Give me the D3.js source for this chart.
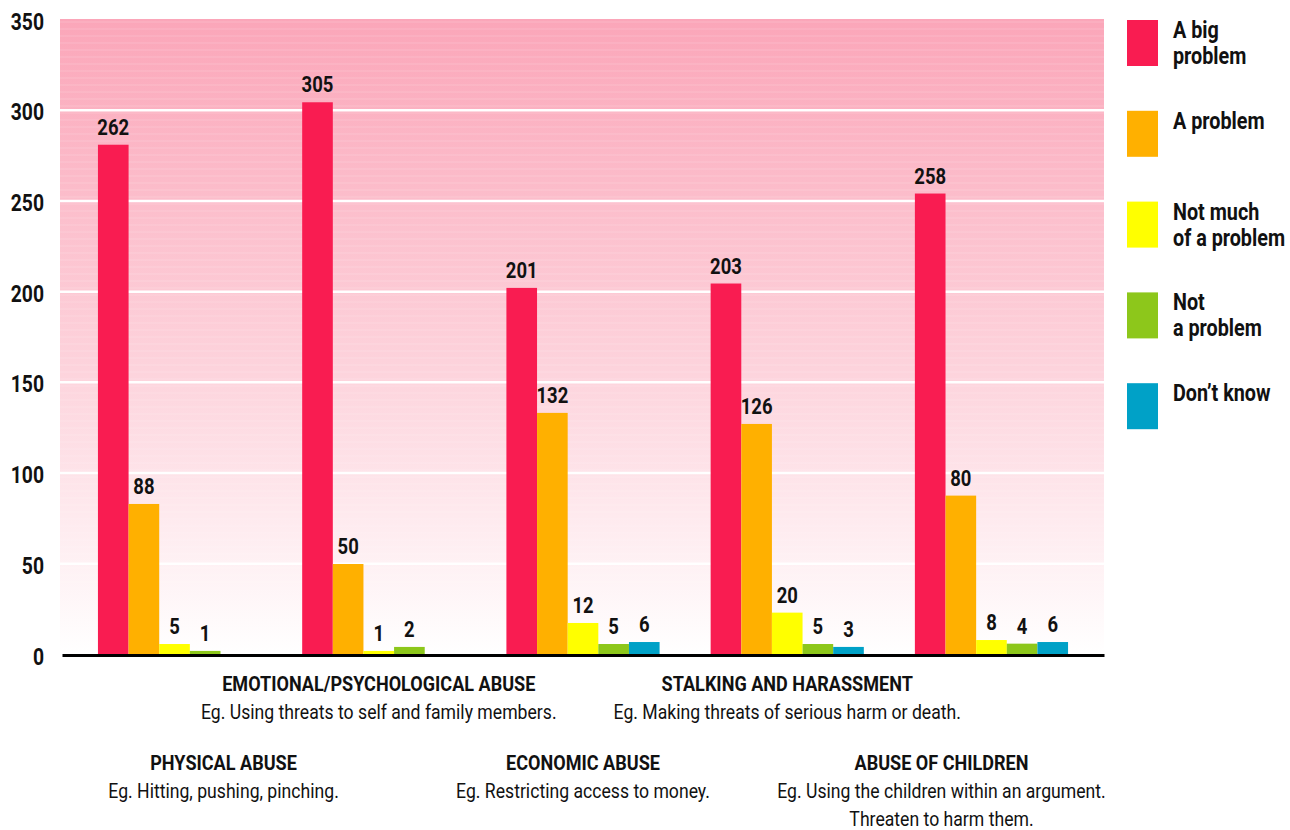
<!DOCTYPE html>
<html lang="en">
<head>
<meta charset="UTF-8">
<title>Domestic abuse - how big a problem</title>
<script src="https://cdnjs.cloudflare.com/ajax/libs/d3/7.8.5/d3.min.js"></script>
<style>
    body { margin: 0; background: #fff; }
    svg text { font-family: Roboto, 'Noto Sans', sans-serif; fill: #111; }
    .num { font-size: 22px; font-weight: bold; }
    .tick-label { font-size: 23px; font-weight: bold; }
    .cat { font-size: 21px; font-weight: bold; }
    .sub { font-size: 21px; font-weight: normal; }
    .legend-text { font-size: 23px; font-weight: bold; }
</style>
</head>
<body>
<svg id="chart" width="1290" height="830"></svg>
<script>
const categories = ["PHYSICAL ABUSE", "EMOTIONAL/PSYCHOLOGICAL ABUSE", "ECONOMIC ABUSE", "STALKING AND HARASSMENT", "ABUSE OF CHILDREN"];
const examples = [
    ["Eg. Hitting, pushing, pinching."],
    ["Eg. Using threats to self and family members."],
    ["Eg. Restricting access to money."],
    ["Eg. Making threats of serious harm or death."],
    ["Eg. Using the children within an argument.", "Threaten to harm them."]
];
const seriesKeys = ["big", "problem", "notMuch", "not", "dontKnow"];
const seriesNames = [["A big", "problem"], ["A problem"], ["Not much", "of a problem"], ["Not", "a problem"], ["Don\u2019t know"]];

// bar heights as drawn
const bigProblem = [280.7, 304.1, 201.8, 204.2, 253.8];
const aProblem = [82.7, 49.6, 132.9, 126.8, 87.3];
const notMuch = [5.5, 1.7, 17.1, 22.8, 7.7];
const notAProblem = [1.7, 3.9, 5.5, 5.5, 5.7];
const dontKnow = [null, null, 6.6, 3.9, 6.6];

// printed labels
const bigProblemLabels = [262, 305, 201, 203, 258];
const aProblemLabels = [88, 50, 132, 126, 80];
const notMuchLabels = [5, 1, 12, 20, 8];
const notAProblemLabels = [1, 2, 5, 5, 4];
const dontKnowLabels = [null, null, 6, 3, 6];

const yTicks = [0, 50, 100, 150, 200, 250, 300, 350];

const colors = ["#f91c51", "#ffb000", "#ffff00", "#8dc71b", "#00a1c7"];
const SX = 0.84; // horizontal squeeze for condensed look

const values = [bigProblem, aProblem, notMuch, notAProblem, dontKnow];
const labels = [bigProblemLabels, aProblemLabels, notMuchLabels, notAProblemLabels, dontKnowLabels];

const svg = d3.select('#chart');
const plotLeft = 62, plotRight = 1104, plotTop = 19, plotBottom = 654;

const y = d3.scaleLinear().domain([0, 350]).range([plotBottom, plotTop]);
const x0 = d3.scaleBand().domain(categories).range([plotLeft, plotRight])
    .paddingInner(0.25).paddingOuter(0.176);
const x1 = d3.scaleBand().domain(seriesKeys).range([0, x0.bandwidth()]);

// background gradient
const defs = svg.append('defs');
const grad = defs.append('linearGradient').attr('id', 'bg')
    .attr('x1', 0).attr('y1', 0).attr('x2', 0).attr('y2', 1);
grad.append('stop').attr('offset', '0%').attr('stop-color', '#fba6b9');
grad.append('stop').attr('offset', '55%').attr('stop-color', '#fdd3dc');
grad.append('stop').attr('offset', '100%').attr('stop-color', '#ffffff');

svg.append('rect')
    .attr('x', plotLeft - 2).attr('y', plotTop)
    .attr('width', plotRight - plotLeft + 2).attr('height', plotBottom - plotTop)
    .attr('fill', 'url(#bg)');

// faint banding
svg.append('g').selectAll('line')
    .data(d3.range(plotTop + 3, plotBottom, 7))
    .join('line')
    .attr('x1', plotLeft - 2).attr('x2', plotRight)
    .attr('y1', d => d).attr('y2', d => d)
    .attr('stroke', '#fff').attr('stroke-opacity', 0.18).attr('stroke-width', 1);

// grid
svg.append('g')
    .attr('transform', `translate(${plotLeft - 2},0)`)
    .call(d3.axisLeft(y).tickValues(yTicks.filter(t => t > 0 && t < 350))
        .tickSize(-(plotRight - plotLeft + 2)).tickFormat(''))
    .call(g => g.select('.domain').remove())
    .call(g => g.selectAll('line').attr('stroke', '#fff').attr('stroke-width', 2.5));

// y tick labels
svg.append('g')
    .attr('transform', `translate(${plotLeft},0)`)
    .call(d3.axisLeft(y).tickValues(yTicks).tickSize(0))
    .call(g => g.select('.domain').remove())
    .call(g => g.selectAll('text')
        .attr('class', 'tick-label')
        .attr('fill', '#111')
        .attr('font-family', null).attr('font-size', null)
        .attr('x', -18 / SX).attr('y', 10).attr('dy', null)
        .attr('transform', `scale(${SX},1)`));

// bars
const groups = svg.append('g').selectAll('g')
    .data(categories)
    .join('g')
    .attr('transform', d => `translate(${x0(d)},0)`);

groups.each(function(cat, ci) {
    const g = d3.select(this);
    seriesKeys.forEach((key, si) => {
        const v = values[si][ci];
        if (v == null) return;
        g.append('rect')
            .attr('x', x1(key))
            .attr('y', y(v))
            .attr('width', x1.bandwidth())
            .attr('height', y(0) - y(v))
            .attr('fill', colors[si]);
        g.append('text')
            .attr('class', 'num')
            .attr('text-anchor', 'middle')
            .attr('transform', `translate(${x1(key) + x1.bandwidth() / 2},${y(v) - 10}) scale(${SX},1)`)
            .text(labels[si][ci]);
    });
});

// x axis line
svg.append('g')
    .attr('transform', `translate(0,${plotBottom + 1})`)
    .call(d3.axisBottom(x0).tickSize(0).tickSizeOuter(0).tickFormat(''))
    .call(g => g.select('.domain').attr('stroke', '#000').attr('stroke-width', 3));

// category labels, alternating rows
const labelRow = [1, 0, 1, 0, 1];
const labelShift = [49, 0, 0, 0, -50];
const rowY = [691, 770];
categories.forEach((cat, i) => {
    const cx = x0(cat) + x0.bandwidth() / 2 + labelShift[i];
    const by = rowY[labelRow[i]];
    svg.append('text').attr('class', 'cat').attr('text-anchor', 'middle')
        .attr('transform', `translate(${cx},${by}) scale(0.86,1)`)
        .text(cat);
    examples[i].forEach((line, j) => {
        svg.append('text').attr('class', 'sub').attr('text-anchor', 'middle')
            .attr('transform', `translate(${cx},${by + 28 + j * 28}) scale(${SX},1)`)
            .text(line);
    });
});

// legend
const legend = svg.append('g').selectAll('g')
    .data(seriesNames)
    .join('g')
    .attr('transform', (d, i) => `translate(1127,${20 + i * 90.8})`);
legend.append('rect')
    .attr('width', 31).attr('height', 46)
    .attr('fill', (d, i) => colors[i]);
legend.each(function(lines) {
    const g = d3.select(this);
    lines.forEach((line, j) => {
        g.append('text').attr('class', 'legend-text')
            .attr('transform', `translate(46,${18 + j * 26}) scale(0.86,1)`)
            .text(line);
    });
});
</script>
</body>
</html>
